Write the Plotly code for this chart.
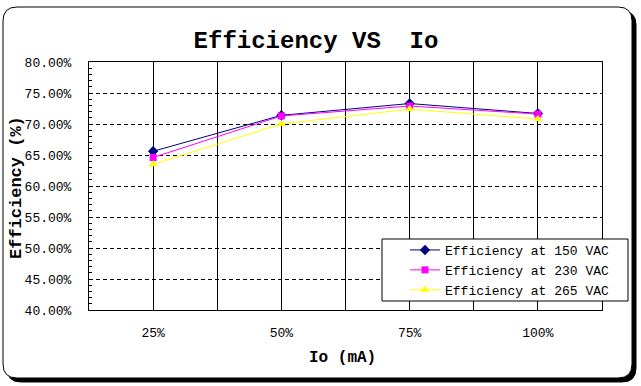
import plotly.graph_objects as go

categories = ["25%", "50%", "75%", "100%"]
eff_150 = [0.656, 0.714, 0.733, 0.717]
eff_230 = [0.646, 0.713, 0.729, 0.716]
eff_265 = [0.635, 0.700, 0.724, 0.708]
series_names = ["Efficiency at 150 VAC", "Efficiency at 230 VAC", "Efficiency at 265 VAC"]
y_ticks = [0.40, 0.45, 0.50, 0.55, 0.60, 0.65, 0.70, 0.75, 0.80]

W, H = 641, 386
L, R, T, B = 89, 602, 62, 310
FONT = "Liberation Mono"


def px(x):
    return (x - L) / (R - L)


def py(y):
    return (B - y) / (B - T)


def rrect(x0, y0, x1, y1, r):
    pts = [
        ("M", [(x0 + r, y0)]), ("L", [(x1 - r, y0)]), ("Q", [(x1, y0), (x1, y0 + r)]),
        ("L", [(x1, y1 - r)]), ("Q", [(x1, y1), (x1 - r, y1)]),
        ("L", [(x0 + r, y1)]), ("Q", [(x0, y1), (x0, y1 - r)]),
        ("L", [(x0, y0 + r)]), ("Q", [(x0, y0), (x0 + r, y0)]),
    ]
    s = ""
    for cmd, ps in pts:
        s += cmd + " " + " ".join(f"{px(a):.5f},{py(b):.5f}" for a, b in ps) + " "
    return s + "Z"


xs = list(range(len(categories)))
fig = go.Figure()
specs = [
    (eff_150, "#000080", "diamond", 8),
    (eff_230, "#FF00FF", "square", 7),
    (eff_265, "#FFFF00", "triangle-up", 8),
]
for name, (vals, col, sym, size) in zip(series_names, specs):
    fig.add_trace(go.Scatter(
        x=xs, y=vals, name=name, mode="lines+markers",
        line=dict(color=col, width=1),
        marker=dict(symbol=sym, color=col, size=size, line=dict(width=0)),
    ))

# x grid at categories and at boundaries
tickvals = []
ticktext = []
for i, c in enumerate(categories):
    tickvals += [i - 0.5, i]
    ticktext += ["", c]
tickvals.append(len(categories) - 0.5)
ticktext.append("")

shapes = [
    dict(type="path", xref="paper", yref="paper", path=rrect(7, 11, 636, 382, 14),
         fillcolor="black", line=dict(color="black", width=1), layer="below"),
    dict(type="path", xref="paper", yref="paper", path=rrect(3, 7, 632, 378, 14),
         fillcolor="white", line=dict(color="black", width=1), layer="below"),
    dict(type="rect", xref="paper", yref="paper", x0=px(382), x1=px(628), y0=py(301), y1=py(239),
         fillcolor="white", line=dict(color="black", width=1), layer="above"),
]

fig.update_layout(
    width=W, height=H,
    margin=dict(l=L, r=W - R, t=T, b=H - B),
    paper_bgcolor="white", plot_bgcolor="rgba(0,0,0,0)",
    font=dict(family=FONT, size=13, color="black"),
    title=dict(text="Efficiency VS  Io", x=316 / W, xref="container", xanchor="center",
               y=1 - 40 / H, yref="container", yanchor="middle",
               font=dict(family=FONT, size=24, weight="bold", color="black")),
    showlegend=True,
    legend=dict(x=px(405), y=py(235), xanchor="left", yanchor="top",
                bgcolor="rgba(0,0,0,0)", borderwidth=0,
                font=dict(family=FONT, size=13, color="black"), tracegroupgap=0),
    shapes=shapes,
    annotations=[
        dict(text="Efficiency (%)", xref="paper", yref="paper", x=px(16), y=py(188),
             xanchor="center", yanchor="middle", textangle=-90, showarrow=False,
             font=dict(family=FONT, size=17, weight="bold", color="black")),
        dict(text="Io (mA)", xref="paper", yref="paper", x=px(342), y=py(358),
             xanchor="center", yanchor="middle", showarrow=False,
             font=dict(family=FONT, size=16, weight="bold", color="black")),
    ],
)

fig.update_xaxes(
    range=[-0.5, len(categories) - 0.5], tickmode="array", tickvals=tickvals, ticktext=ticktext,
    showgrid=True, gridcolor="black", gridwidth=1, ticks="", zeroline=False,
    showline=True, linecolor="black", linewidth=1, mirror=True,
    ticklabelstandoff=10, tickfont=dict(family=FONT, size=13, color="black"),
)
fig.update_yaxes(
    range=[0.40, 0.80], tickmode="array", tickvals=y_ticks, tickformat=".2%",
    showgrid=True, gridcolor="black", gridwidth=1, griddash="4px,3px", zeroline=False,
    showline=True, linecolor="black", linewidth=1, mirror=True,
    ticks="inside", ticklen=4, tickcolor="black",
    minor=dict(dtick=0.01, tick0=0.40, ticks="inside", ticklen=3, tickcolor="black", showgrid=False),
    ticklabelstandoff=14, tickfont=dict(family=FONT, size=13, color="black"),
)

fig.write_html("out.html", config={"displayModeBar": False},
               post_script="document.body.style.margin='0';")
